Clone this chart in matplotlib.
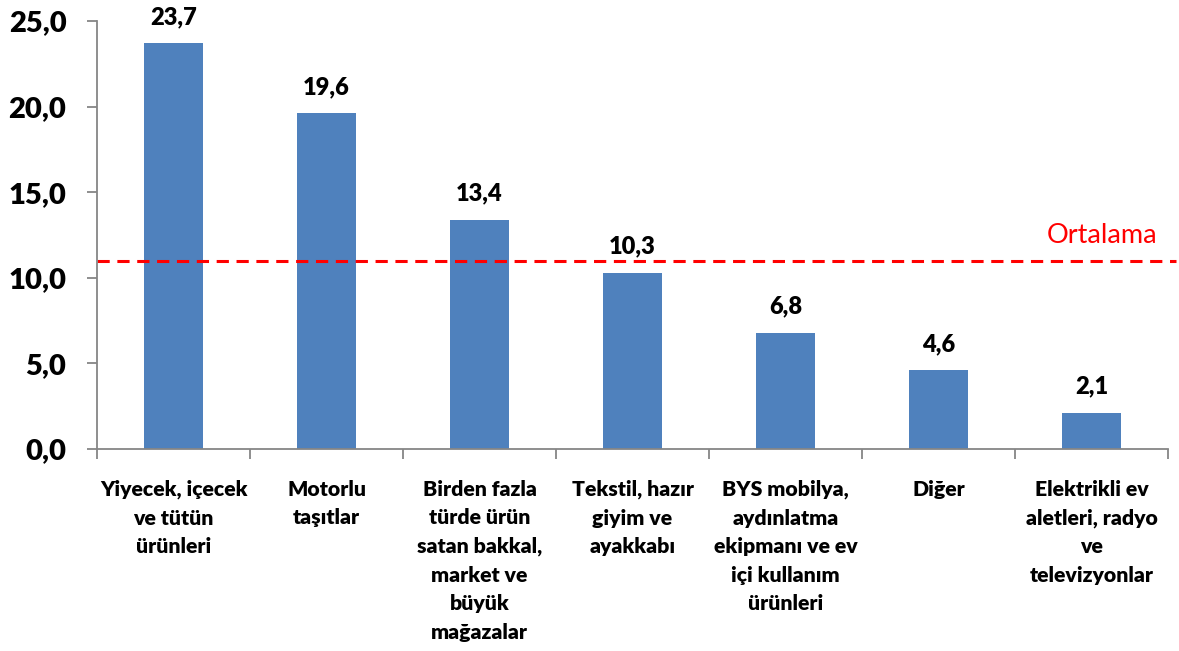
import matplotlib.pyplot as plt
import matplotlib.ticker as ticker
import numpy as np

categories = [
    "Yiyecek, içecek\nve tütün\nürünleri",
    "Motorlu\ntaşıtlar",
    "Birden fazla\ntürde ürün\nsatan bakkal,\nmarket ve\nbüyük\nmağazalar",
    "Tekstil, hazır\ngiyim ve\nayakkabı",
    "BYS mobilya,\naydınlatma\nekipmanı ve ev\niçi kullanım\nürünleri",
    "Diğer",
    "Elektrikli ev\naletleri, radyo\nve\ntelevizyonlar",
]
values = [23.7, 19.6, 13.4, 10.3, 6.8, 4.6, 2.1]
average = 11.0
yticks = [0, 5, 10, 15, 20, 25]

plt.rcParams['font.family'] = ['Lato', 'DejaVu Sans']

fig = plt.figure(figsize=(11.79, 6.51), dpi=100)
ax = fig.add_axes([0.0823, 0.3103, 0.9084, 0.6574])

x = np.arange(len(values))
ax.bar(x, values, width=0.39, color='#4F81BD')

for xi, v in zip(x, values):
    ax.text(xi, v + 0.9, f"{v:.1f}".replace('.', ','), ha='center', va='bottom',
            fontsize=17, fontweight='heavy')

# average line, runs a little past the plot area
ax.plot([-0.5, 6.55], [average, average], color='#FF0000', linestyle=(0, (4, 2.5)),
        linewidth=2.2, clip_on=False)
ax.text(6.43, average + 0.75, "Ortalama", color='#FF0000', fontsize=19.5,
        ha='right', va='bottom')

ax.set_xlim(-0.5, 6.5)
ax.set_ylim(0, 25)
ax.set_yticks(yticks)
ax.set_yticklabels([f"{t:.1f}".replace('.', ',') for t in yticks],
                   fontsize=21, fontweight='heavy')

ax.set_xticks(x)
ax.set_xticklabels(categories, fontsize=15.3, fontweight='heavy', linespacing=1.6)
ax.xaxis.set_minor_locator(ticker.FixedLocator(np.arange(-0.5, 7, 1)))
ax.tick_params(axis='x', which='major', length=0, pad=22)
ax.tick_params(axis='x', which='minor', length=7, color='#868686', width=1.3)
ax.tick_params(axis='y', length=7, color='#868686', width=1.3, pad=15)

for side in ['top', 'right']:
    ax.spines[side].set_visible(False)
for side in ['left', 'bottom']:
    ax.spines[side].set_color('#868686')
    ax.spines[side].set_linewidth(1.3)

fig.savefig('out.png', dpi=100)
